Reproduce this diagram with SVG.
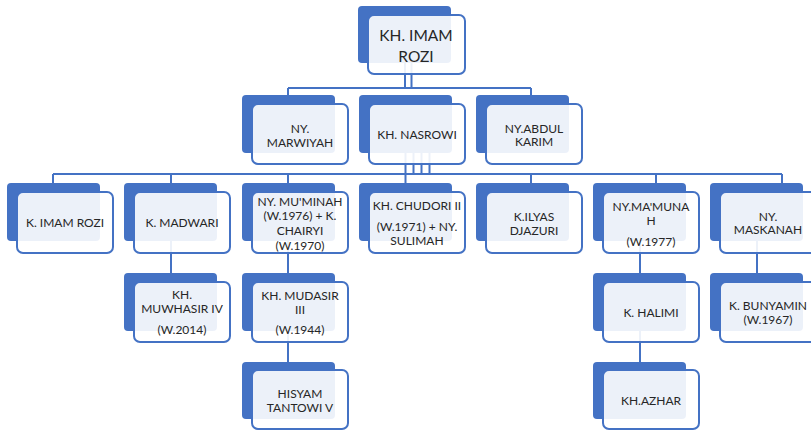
<svg xmlns="http://www.w3.org/2000/svg" width="811" height="430" viewBox="0 0 811 430">
<style>
.bk{fill:#4472c4}
.fr{fill:#fff;fill-opacity:.9;stroke:#4472c4;stroke-width:2}
.t{font-family:Lato,"Liberation Sans",sans-serif;font-size:12px;fill:#262626;text-anchor:middle}
.tt{font-family:Lato,"Liberation Sans",sans-serif;font-size:15.5px;fill:#262626;text-anchor:middle}
.c{stroke:#4472c4;stroke-width:2;fill:none}
</style>
<rect width="811" height="430" fill="#fff"/>
<g id="connectors">
<path class="c" d="M405,63V88M411.5,63V88M288,88H531M288,88V95M531,88V95"/>
<path class="c" d="M405.5,153V183M413.5,153V174M421.5,153V174M429.5,153V174M53,174H782M53,174V183M171,174V183M288,174V183M531,174V183M656,174V183M782,174V183"/>
<path class="c" d="M171,241V273M288,241V273M640,241V273M757,241V273M288,331V362M640,331V362"/>
</g>
<g id="n-imam-rozi-top"><rect class="bk" x="358" y="6" width="93" height="57" rx="4"/><rect class="fr" x="368" y="15" width="97" height="59" rx="6"/><text class="tt" x="416" y="40.5">KH. IMAM</text><text class="tt" x="416" y="62">ROZI</text></g>
<g id="n-marwiyah"><rect class="bk" x="242" y="95" width="93" height="58" rx="4"/><rect class="fr" x="252" y="104" width="96" height="60" rx="6"/><text class="t" x="300" y="132.5">NY.</text><text class="t" x="300" y="146.5">MARWIYAH</text></g>
<g id="n-nasrowi"><rect class="bk" x="359" y="95" width="93" height="58" rx="4"/><rect class="fr" x="369" y="104" width="96" height="60" rx="6"/><text class="t" x="417" y="138.5">KH. NASROWI</text></g>
<g id="n-abdul-karim"><rect class="bk" x="476" y="95" width="93" height="58" rx="4"/><rect class="fr" x="486" y="104" width="96" height="60" rx="6"/><text class="t" x="534" y="132.5">NY.ABDUL</text><text class="t" x="534" y="146">KARIM</text></g>
<g id="n-k-imam-rozi"><rect class="bk" x="7" y="183" width="93" height="58" rx="4"/><rect class="fr" x="17" y="192" width="96" height="61" rx="6"/><text class="t" x="65" y="226.5">K. IMAM ROZI</text></g>
<g id="n-madwari"><rect class="bk" x="124" y="183" width="93" height="58" rx="4"/><rect class="fr" x="134" y="192" width="96" height="61" rx="6"/><text class="t" x="182" y="226.5">K. MADWARI</text></g>
<g id="n-muminah"><rect class="bk" x="242" y="183" width="93" height="58" rx="4"/><rect class="fr" x="252" y="192" width="96" height="61" rx="6"/><text class="t" x="300" y="205.5">NY. MU'MINAH</text><text class="t" x="300" y="220.3">(W.1976) + K.</text><text class="t" x="300" y="235.1">CHAIRYI</text><text class="t" x="300" y="249.9">(W.1970)</text></g>
<g id="n-chudori"><rect class="bk" x="359" y="183" width="93" height="58" rx="4"/><rect class="fr" x="369" y="192" width="96" height="61" rx="6"/><text class="t" x="417" y="209.5">KH. CHUDORI II</text><text class="t" x="417" y="231">(W.1971) + NY.</text><text class="t" x="417" y="244.5">SULIMAH</text></g>
<g id="n-ilyas"><rect class="bk" x="476" y="183" width="93" height="58" rx="4"/><rect class="fr" x="486" y="192" width="96" height="61" rx="6"/><text class="t" x="534" y="220.5">K.ILYAS</text><text class="t" x="534" y="234.5">DJAZURI</text></g>
<g id="n-mamunah"><rect class="bk" x="593" y="183" width="93" height="58" rx="4"/><rect class="fr" x="603" y="192" width="96" height="61" rx="6"/><text class="t" x="651" y="210.5">NY.MA'MUNA</text><text class="t" x="651" y="224.5">H</text><text class="t" x="651" y="245.5">(W.1977)</text></g>
<g id="n-maskanah"><rect class="bk" x="710" y="183" width="93" height="58" rx="4"/><rect class="fr" x="720" y="192" width="96" height="61" rx="6"/><text class="t" x="768" y="220.5">NY.</text><text class="t" x="768" y="234">MASKANAH</text></g>
<g id="n-muwhasir"><rect class="bk" x="124" y="273" width="93" height="58" rx="4"/><rect class="fr" x="134" y="282" width="96" height="60" rx="6"/><text class="t" x="182" y="298.5">KH.</text><text class="t" x="182" y="313.3">MUWHASIR IV</text><text class="t" x="182" y="333.5">(W.2014)</text></g>
<g id="n-mudasir"><rect class="bk" x="242" y="273" width="93" height="58" rx="4"/><rect class="fr" x="252" y="282" width="96" height="60" rx="6"/><text class="t" x="300" y="299.5">KH. MUDASIR</text><text class="t" x="300" y="313.5">III</text><text class="t" x="300" y="333.5">(W.1944)</text></g>
<g id="n-halimi"><rect class="bk" x="593" y="273" width="93" height="58" rx="4"/><rect class="fr" x="603" y="282" width="96" height="60" rx="6"/><text class="t" x="651" y="316.5">K. HALIMI</text></g>
<g id="n-bunyamin"><rect class="bk" x="710" y="273" width="93" height="58" rx="4"/><rect class="fr" x="720" y="282" width="96" height="60" rx="6"/><text class="t" x="768" y="309.5">K. BUNYAMIN</text><text class="t" x="768" y="323.5">(W.1967)</text></g>
<g id="n-hisyam"><rect class="bk" x="242" y="362" width="93" height="57" rx="4"/><rect class="fr" x="252" y="370" width="96" height="59" rx="6"/><text class="t" x="300" y="397.5">HISYAM</text><text class="t" x="300" y="411.5">TANTOWI V</text></g>
<g id="n-azhar"><rect class="bk" x="593" y="362" width="93" height="57" rx="4"/><rect class="fr" x="603" y="370" width="96" height="59" rx="6"/><text class="t" x="651" y="404.5">KH.AZHAR</text></g>
</svg>
